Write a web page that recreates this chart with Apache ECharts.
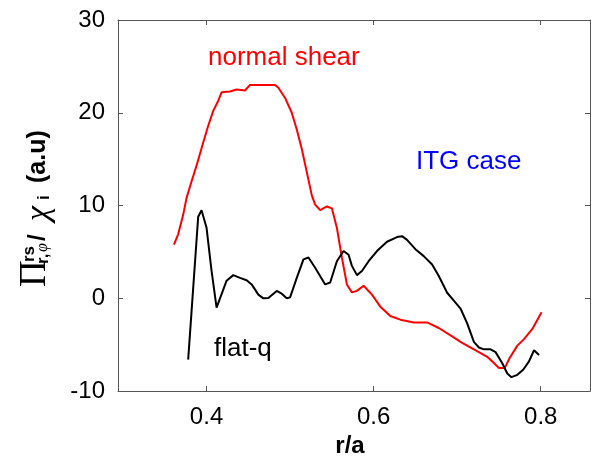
<!DOCTYPE html>
<html>
<head>
<meta charset="utf-8">
<script src="https://cdn.jsdelivr.net/npm/echarts@6/dist/echarts.min.js"></script>
<style>
html,body{margin:0;padding:0;background:#fff;}
#chart{width:591px;height:463px;}
</style>
</head>
<body>
<div id="chart"></div>
<script>
// r/a positions and values, normal shear (red)
const redR = [0.361,0.366,0.372,0.376,0.382,0.388,0.396,0.402,0.408,0.414,0.418,0.428,0.436,0.446,0.452,0.468,0.482,0.486,0.494,0.502,0.508,0.514,0.520,0.526,0.530,0.536,0.544,0.550,0.556,0.562,0.568,0.574,0.580,0.588,0.598,0.608,0.620,0.632,0.648,0.664,0.678,0.694,0.706,0.714,0.726,0.736,0.743,0.750,0.757,0.763,0.772,0.780,0.790,0.801];
const redY = [5.8,6.9,9.0,10.8,12.6,14.3,16.8,18.6,20.2,21.3,22.2,22.3,22.5,22.4,23.0,23.0,23.0,22.7,21.6,20.0,18.2,16.1,13.6,11.1,10.1,9.5,9.9,9.7,7.6,4.4,1.5,0.64,0.8,1.35,0.4,-0.9,-1.9,-2.3,-2.6,-2.6,-3.2,-4.1,-4.8,-5.2,-5.8,-6.3,-6.9,-7.5,-7.5,-6.4,-5.1,-4.4,-3.3,-1.5];
// flat-q (black)
const blackR = [0.378,0.390,0.394,0.400,0.406,0.412,0.418,0.424,0.432,0.440,0.448,0.454,0.462,0.468,0.474,0.484,0.490,0.496,0.500,0.508,0.516,0.522,0.530,0.542,0.548,0.556,0.564,0.570,0.574,0.580,0.586,0.594,0.604,0.616,0.628,0.634,0.640,0.650,0.660,0.670,0.678,0.688,0.696,0.704,0.712,0.720,0.726,0.732,0.740,0.746,0.754,0.760,0.765,0.772,0.779,0.786,0.792,0.798];
const blackY = [-6.6,8.8,9.5,7.6,2.95,-1.0,0.46,1.9,2.5,2.2,1.95,1.5,0.4,0.0,0.04,0.8,0.5,0.0,0.1,2.2,4.2,4.4,3.3,1.5,1.7,4.0,5.1,4.7,3.5,2.5,2.95,4.0,5.1,6.1,6.6,6.7,6.3,5.3,4.55,3.65,2.4,0.6,-0.25,-1.1,-2.7,-4.7,-5.3,-5.5,-5.5,-5.8,-7.0,-8.1,-8.5,-8.25,-7.7,-6.8,-5.6,-6.1];
// ticks
const xTicks = [0.4, 0.6, 0.8];
const yTicks = [-10, 0, 10, 20, 30];
const xRange = [0.294, 0.859];
const yRange = [-10, 30];

const zip = (a, b) => a.map((v, i) => [v, b[i]]);
const axisColor = '#555';
const sans = '"Liberation Sans", Arial, sans-serif';
const serif = '"Liberation Serif", "Times New Roman", serif';

const chart = echarts.init(document.getElementById('chart'), null, {renderer: 'canvas'});

const baseX = {
  type: 'value', min: xRange[0], max: xRange[1],
  axisLine: {show: true, onZero: false, lineStyle: {color: axisColor, width: 1}},
  axisTick: {show: true, inside: true, length: 5, customValues: xTicks, lineStyle: {color: axisColor}},
  splitLine: {show: false}
};
const baseY = {
  type: 'value', min: yRange[0], max: yRange[1], interval: 10,
  axisLine: {show: true, onZero: false, lineStyle: {color: axisColor, width: 1}},
  axisTick: {show: true, inside: true, length: 5, lineStyle: {color: axisColor}},
  splitLine: {show: false}
};

// y-axis title pieces, laid out along the reading direction (bottom to top)
const Lx = 47, Ly = 287;
function piece(x, y, text, font) {
  return {type: 'text', x: x, y: y, style: {text: text, font: font, fill: '#000', textAlign: 'left', textVerticalAlign: 'middle'}};
}

chart.setOption({
  animation: false,
  backgroundColor: '#fff',
  grid: {left: 118, right: 1, top: 20, bottom: 68, containLabel: false},
  xAxis: [
    Object.assign({}, baseX, {
      position: 'bottom',
      axisLabel: {show: true, customValues: xTicks, margin: 14, fontSize: 24, fontFamily: sans, color: '#000',
        formatter: v => v.toFixed(1)},
      name: 'r/a', nameLocation: 'middle', nameGap: 42,
      nameTextStyle: {fontSize: 24, fontWeight: 'bold', fontFamily: sans, color: '#000', padding: [0, 8, 0, 0]}
    }),
    Object.assign({}, baseX, {position: 'top', axisLabel: {show: false}})
  ],
  yAxis: [
    Object.assign({}, baseY, {
      position: 'left',
      axisLabel: {show: true, margin: 13, fontSize: 24, fontFamily: sans, color: '#000',
        customValues: yTicks, padding: [3, 0, 0, 0]}
    }),
    Object.assign({}, baseY, {position: 'right', axisLabel: {show: false}})
  ],
  series: [
    {type: 'line', name: 'normal shear', data: zip(redR, redY), showSymbol: false, symbol: 'none',
     lineStyle: {color: '#ff0000', width: 2}, itemStyle: {color: '#ff0000'}},
    {type: 'line', name: 'flat-q', data: zip(blackR, blackY), showSymbol: false, symbol: 'none',
     lineStyle: {color: '#000', width: 2}, itemStyle: {color: '#000'}}
  ],
  graphic: [
    {type: 'text', x: 208, y: 58, style: {text: 'normal shear', font: '26px ' + sans, fill: '#ff0000', textAlign: 'left', textVerticalAlign: 'middle'}},
    {type: 'text', x: 416, y: 162, style: {text: 'ITG case', font: '26px ' + sans, fill: '#0000ff', textAlign: 'left', textVerticalAlign: 'middle'}},
    {type: 'text', x: 214, y: 349, style: {text: 'flat-q', font: '26px ' + sans, fill: '#000', textAlign: 'left', textVerticalAlign: 'middle'}},
    {type: 'group', x: Lx, y: Ly, rotation: Math.PI / 2, children: [
      piece(0, -12, 'Π', '37px ' + serif),
      piece(25, -18, 'rs', 'bold 17px ' + sans),
      piece(23, -4, 'r,', 'bold 17px ' + sans),
      piece(35, -4, 'φ', 'italic 16px ' + serif),
      piece(46, -9, '/', 'bold 24px ' + sans),
      piece(66, -8, 'χ', 'italic 34px ' + serif),
      piece(87, -3, 'i', 'bold 17px ' + sans),
      piece(104, -9, '(a.u)', 'bold 25px ' + sans)
    ]}
  ]
});
</script>
</body>
</html>
